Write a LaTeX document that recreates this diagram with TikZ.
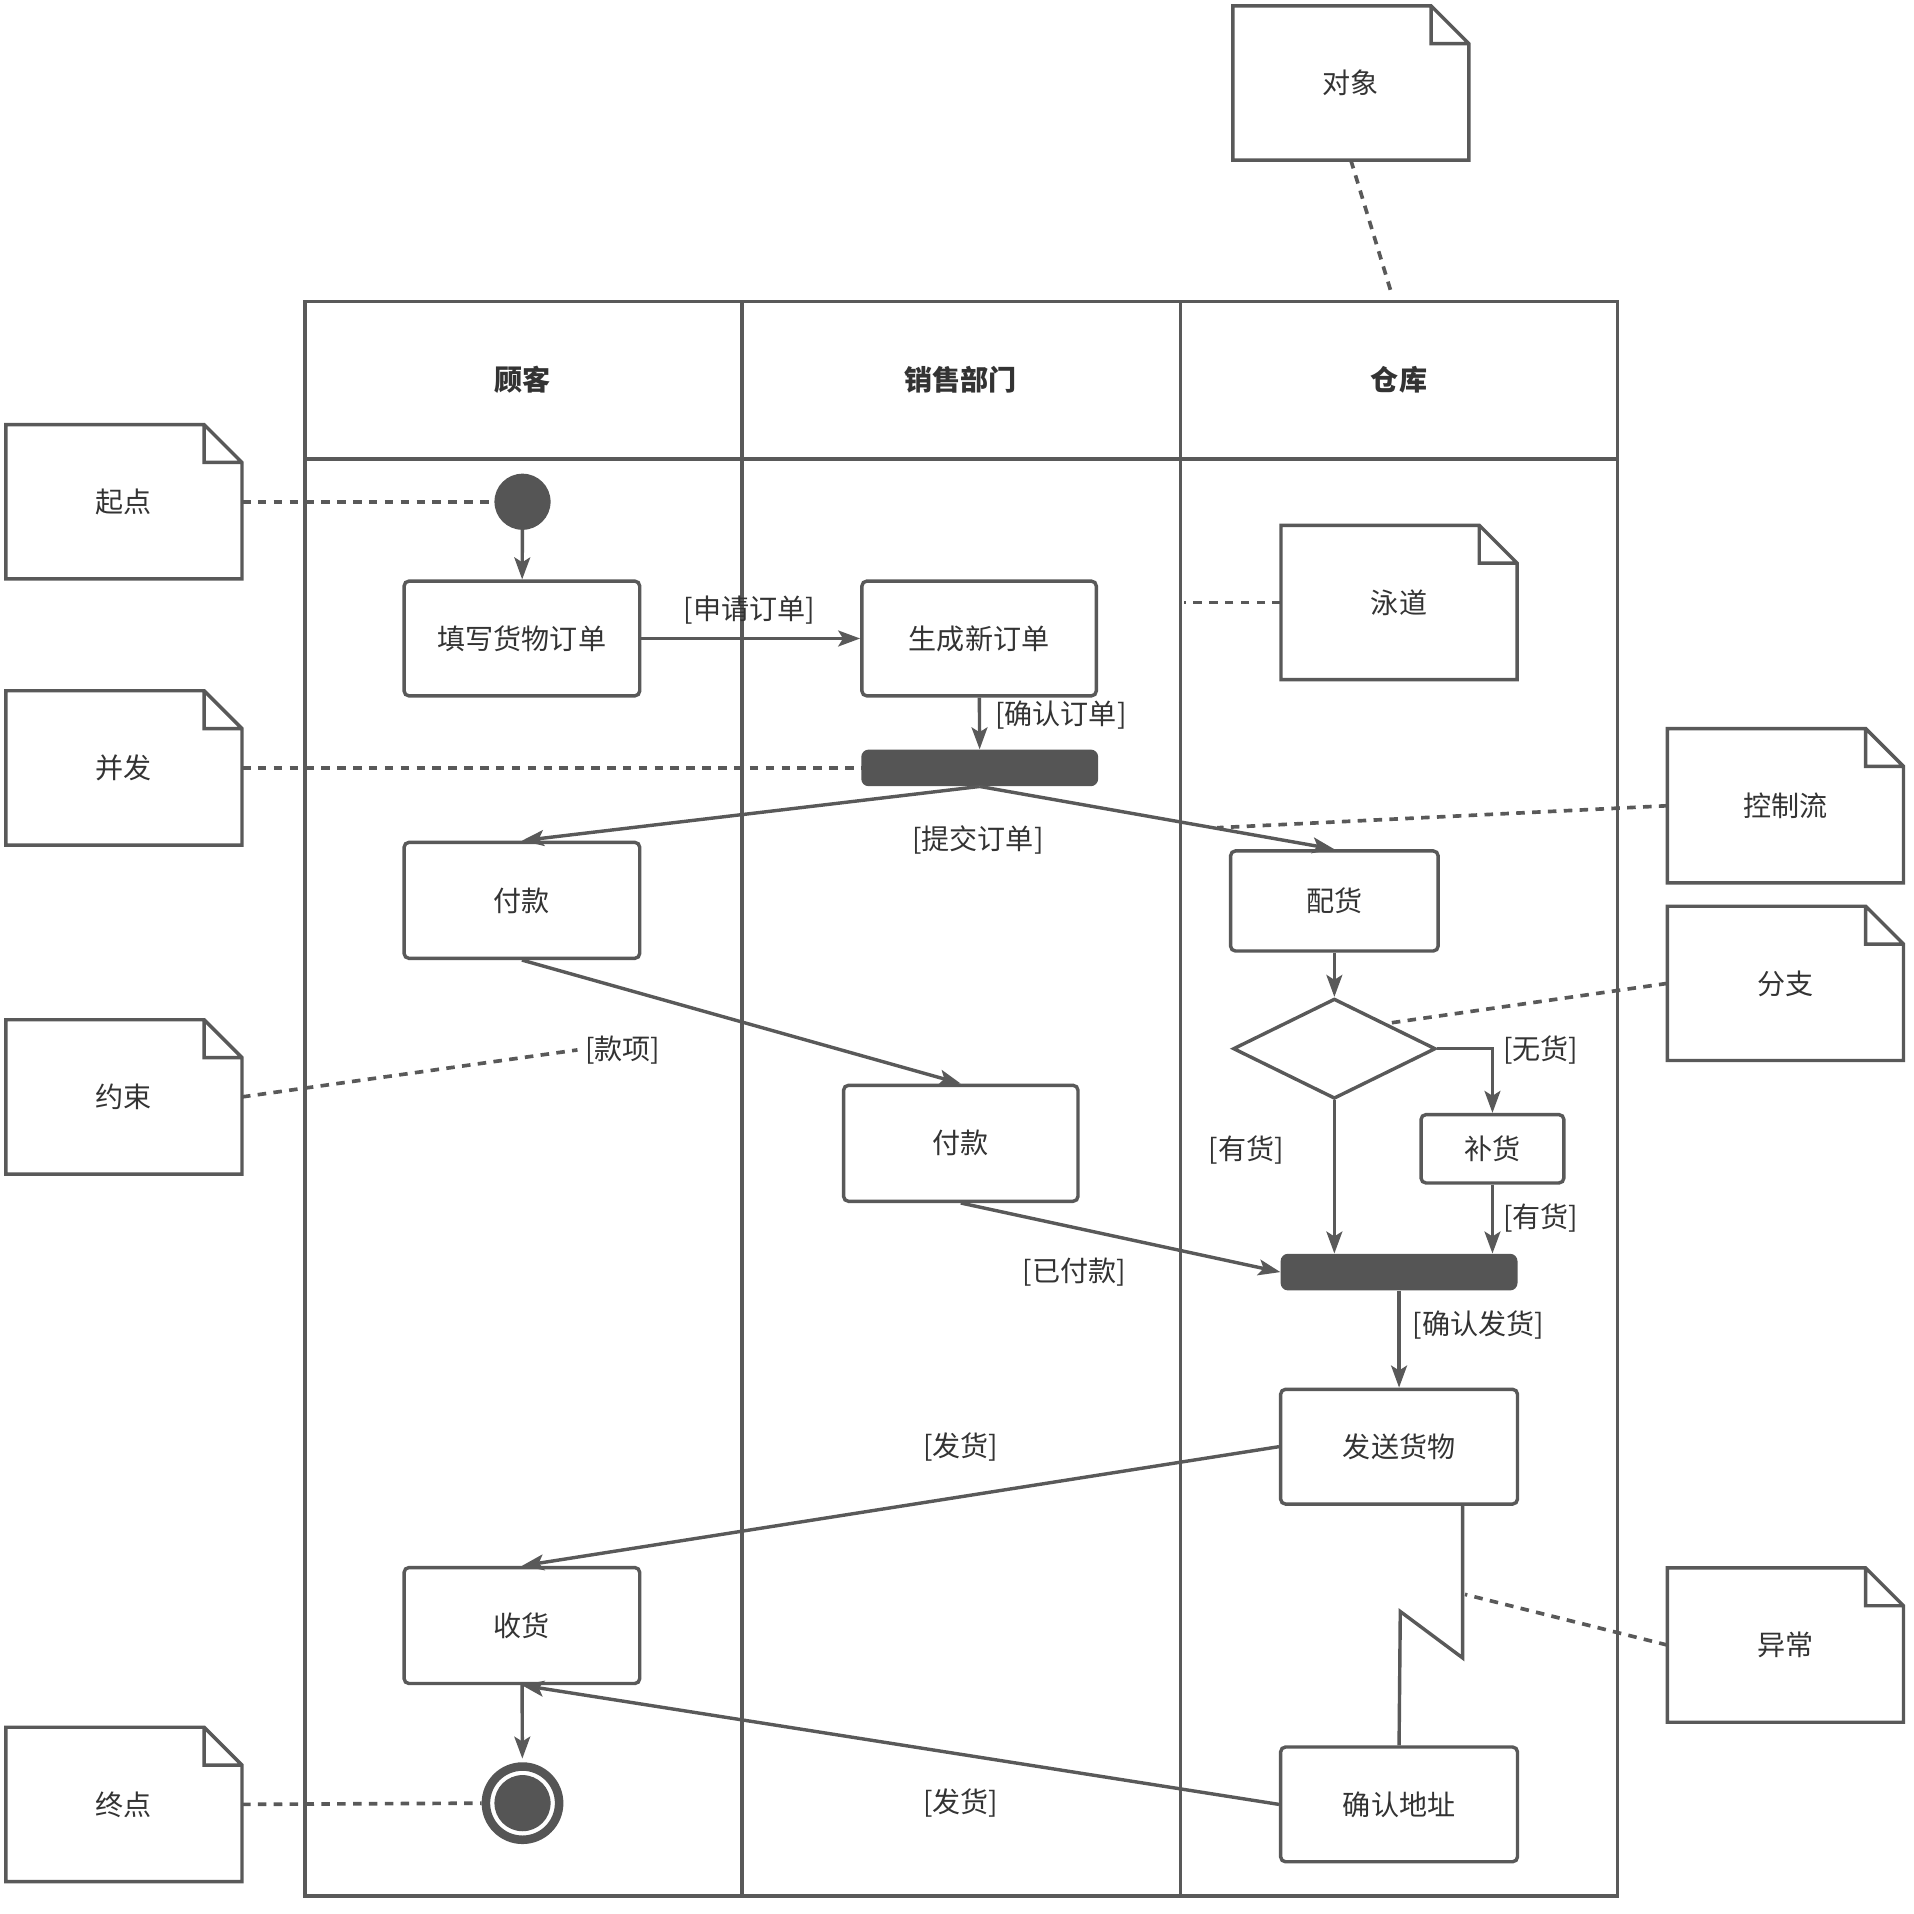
\documentclass[tikz,border=0pt]{standalone}
\usepackage{fontspec}
\setmainfont{Noto Sans CJK SC}
\usetikzlibrary{arrows.meta,shapes.geometric,calc}
\definecolor{lc}{RGB}{89,89,89}
\definecolor{fc}{RGB}{85,85,85}
\definecolor{tc}{RGB}{51,51,51}
\newcommand{\mknote}[3]{%
  \node[note] (#1) at (#2) {#3};
  \draw[notepath] (#1.south west) -- (#1.north west) -- ([xshift=-31pt]#1.north east) -- ([yshift=-31pt]#1.north east) -- (#1.south east) -- cycle
     ([xshift=-31pt]#1.north east) -- ([xshift=-31pt,yshift=-31pt]#1.north east) -- ([yshift=-31pt]#1.north east);
}
\begin{document}
\begin{tikzpicture}[x=1pt,y=-1pt,
  every node/.style={font=\fontsize{23}{27}\selectfont, text=tc},
  act/.style={draw=lc, line width=2.8pt, rounded corners=4pt, fill=white, inner sep=0pt},
  bar/.style={fill=fc, rounded corners=6pt, inner sep=0pt, minimum width=194pt, minimum height=30pt},
  flow/.style={draw=lc, line width=2.8pt, -{Stealth[length=18pt,width=13pt,inset=4pt]}},
  dotline/.style={draw=lc, line width=3pt, dash pattern=on 7pt off 6pt},
  note/.style={minimum width=193pt, minimum height=126pt, inner sep=0pt},
  notepath/.style={draw=lc, line width=2.8pt, line join=miter},
  lane/.style={draw=lc, line width=2.9pt},
  head/.style={font=\fontsize{23}{27}\selectfont\bfseries},
  lbl/.style={inner sep=0pt}
]
\useasboundingbox (0,0) rectangle (1567,1567.8);

% swimlanes
\draw[lane] (250,247) rectangle (1325,1553);
\draw[lane] (250,376) -- (1325,376);
\draw[lane] (608,247) -- (608,1553);
\draw[lane] (967,247) -- (967,1553);
\node[head] (h1) at (428,311) {顾客};
\node[head] (h2) at (787,311) {销售部门};
\node[head] (h3) at (1146,311) {仓库};

% notes
\mknote{nobj}{1106.5,68}{对象}
\mknote{nstart}{101.5,411}{起点}
\mknote{nlane}{1146,493.5}{泳道}
\mknote{nfork}{101.5,629}{并发}
\mknote{nflow}{1462.5,660}{控制流}
\mknote{nbranch}{1462.5,805.5}{分支}
\mknote{ncons}{101.5,898.5}{约束}
\mknote{nexc}{1462.5,1347.5}{异常}
\mknote{nend}{101.5,1478}{终点}

% activity nodes
\node[circle, fill=fc, minimum size=46pt, inner sep=0pt] (start) at (428,411) {};
\node[act, minimum width=193pt, minimum height=94pt] (fill) at (427.5,523) {填写货物订单};
\node[act, minimum width=192pt, minimum height=94pt] (gen) at (802,523) {生成新订单};
\node[bar] (fork) at (802.5,629) {};
\node[act, minimum width=193pt, minimum height=95pt] (pay1) at (427.5,737.5) {付款};
\node[act, minimum width=170pt, minimum height=82pt] (pick) at (1093,738) {配货};
\node[act, minimum width=192pt, minimum height=95pt] (pay2) at (787,936.5) {付款};
\node[draw=lc, line width=2.8pt, diamond, aspect=2, minimum width=166pt, minimum height=82pt, inner sep=0pt] (dia) at (1093,859) {};
\node[act, minimum width=117pt, minimum height=56pt] (rest) at (1222.5,941) {补货};
\node[bar] (join) at (1146,1042) {};
\node[act, minimum width=194pt, minimum height=94pt] (ship) at (1146,1185) {发送货物};
\node[act, minimum width=193pt, minimum height=95pt] (recv) at (427.5,1331.5) {收货};
\node[act, minimum width=194pt, minimum height=94pt] (addr) at (1146,1478) {确认地址};
\node[circle, draw=fc, line width=7pt, minimum size=60pt, inner sep=0pt] (end) at (428,1477) {};
\fill[fc] (end.center) circle (23pt);

% control flows
\draw[flow] (start) -- (fill);
\draw[flow] (fill) -- (gen);
\draw[flow] (gen) -- (fork);
\draw[flow] (fork.south) -- (pay1.north);
\draw[flow] (fork.south) -- (pick.north);
\draw[flow] (pay1.south) -- (pay2.north);
\draw[flow] (pay2.south) -- (join.west);
\draw[flow] (pick) -- (dia);
\draw[flow] (dia.east) -| (rest.north);
\draw[flow] (rest.south) -- (rest.south |- join.north);
\draw[flow] (dia.south) -- (dia.south |- join.north);
\draw[flow] (join) -- (ship);
\draw[flow] (ship.west) -- (recv.north);
\draw[flow] (addr.west) -- (recv.south);
\draw[flow, shorten >=3pt] (recv) -- (end);
% exception (lightning)
\coordinate (zz1) at (1198,1358);
\coordinate (zz2) at (1147,1320);
\draw[draw=lc, line width=2.8pt, line join=miter] ([xshift=52pt]ship.south) -- (zz1) -- (zz2) -- (addr.north);

% flow labels
\node[lbl] (l1) at (614,500) {[申请订单]};
\node[lbl] (l2) at (869,586) {[确认订单]};
\node[lbl] (l3) at (801,688) {[提交订单]};
\node[lbl] (l4) at (510,860) {[款项]};
\node[lbl] (l5) at (880,1042) {[已付款]};
\node[lbl] (l6) at (1262,860) {[无货]};
\node[lbl] (l7) at (1021,942) {[有货]};
\node[lbl] (l8) at (1262,998) {[有货]};
\node[lbl] (l9) at (1211,1085) {[确认发货]};
\node[lbl] (l10) at (787,1185) {[发货]};
\node[lbl] (l11) at (787,1477) {[发货]};

% dashed annotation links
\coordinate (eobj) at (1140,241);
\coordinate (elane) at (970,493.5);
\coordinate (eflow) at (997,678);
\coordinate (ebranch) at (1138,838);
\coordinate (econs) at (473,860);
\coordinate (eexc) at (1200,1306);
\draw[dotline] (nobj.south) -- (eobj);
\draw[dotline] (nstart.east) -- (start.west);
\draw[dotline] (nlane.west) -- (elane);
\draw[dotline] (nfork.east) -- (fork.west);
\draw[dotline] (nflow.west) -- (eflow);
\draw[dotline] (nbranch.west) -- (ebranch);
\draw[dotline] (ncons.east) -- (econs);
\draw[dotline] (nexc.west) -- (eexc);
\draw[dotline] (nend.east) -- (end.west);
\end{tikzpicture}
\end{document}
